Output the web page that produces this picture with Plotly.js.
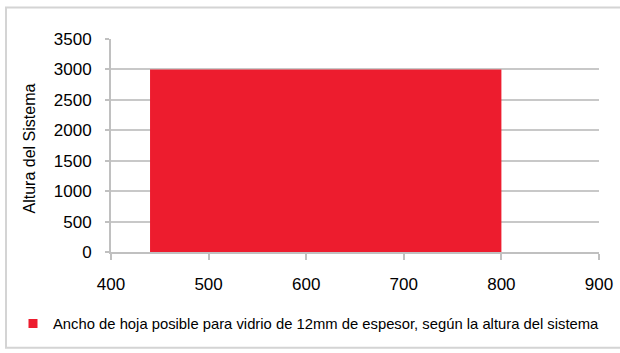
<!DOCTYPE html>
<html><head><meta charset="utf-8">
<script src="https://cdn.plot.ly/plotly-3.0.1.min.js"></script>
<style>html,body{margin:0;padding:0;background:#fff}#chart{width:620px;height:353px}</style>
</head><body><div id="chart"></div>
<script>
const anchoHoja = [440, 800];
const alturaSistema = [3000, 3000];
const serieNombre = 'Ancho de hoja posible para vidrio de 12mm de espesor, según la altura del sistema';
const xTicks = [400, 500, 600, 700, 800, 900];
const yTicks = [0, 500, 1000, 1500, 2000, 2500, 3000, 3500];

const W = 620, H = 353, L = 111, R = 21, T = 39, B = 98;
const pw = W - L - R, ph = H - T - B;
const px = v => (v - L) / pw;
const py = v => (H - B - v) / ph;
const red = '#ed1c2e';

const areaTrace = {
  x: anchoHoja, y: alturaSistema, type: 'scatter', mode: 'none',
  fill: 'tozeroy', fillcolor: red, name: serieNombre, showlegend: false
};
const legendTrace = {
  x: [null], y: [null], type: 'scatter', mode: 'markers', name: serieNombre,
  marker: {symbol: 'square', size: 9, color: red}, showlegend: true
};
const fam = '"Liberation Sans", Arial, sans-serif';
const layout = {
  width: W, height: H, margin: {l: L, r: R, t: T, b: B},
  paper_bgcolor: '#fff', plot_bgcolor: '#fff',
  font: {family: fam, size: 17, color: '#000'},
  xaxis: {range: [400, 900], tickvals: xTicks, showgrid: false, zeroline: false,
    showline: true, linecolor: '#c0c0c0', linewidth: 2, ticks: 'outside', ticklen: 6,
    tickcolor: '#c0c0c0', tickwidth: 2, tickfont: {size: 17}, ticklabelstandoff: 10, fixedrange: true},
  yaxis: {range: [0, 3500], tickvals: yTicks, showgrid: true, gridcolor: '#c8c8c8', gridwidth: 2,
    zeroline: false, showline: true, linecolor: '#c0c0c0', linewidth: 2, ticks: 'outside',
    ticklen: 4, tickcolor: '#c0c0c0', tickwidth: 2, tickfont: {size: 17}, ticklabelstandoff: 10,
    fixedrange: true},
  annotations: [{text: 'Altura del Sistema', xref: 'paper', yref: 'paper', x: px(29), y: py(150),
    xanchor: 'center', yanchor: 'middle', textangle: -90, showarrow: false, font: {size: 16}}],
  showlegend: true,
  legend: {orientation: 'h', x: px(13), y: py(328), yanchor: 'middle', xanchor: 'left',
    font: {size: 14.8}, bgcolor: 'rgba(0,0,0,0)'},
  shapes: [{type: 'rect', xref: 'paper', yref: 'paper', x0: px(6), x1: px(626), y0: py(7), y1: py(352),
    line: {color: '#d4d4d4', width: 2}, layer: 'below'}]
};
Plotly.newPlot('chart', [areaTrace, legendTrace], layout, {displayModeBar: false, staticPlot: true});
</script></body></html>
